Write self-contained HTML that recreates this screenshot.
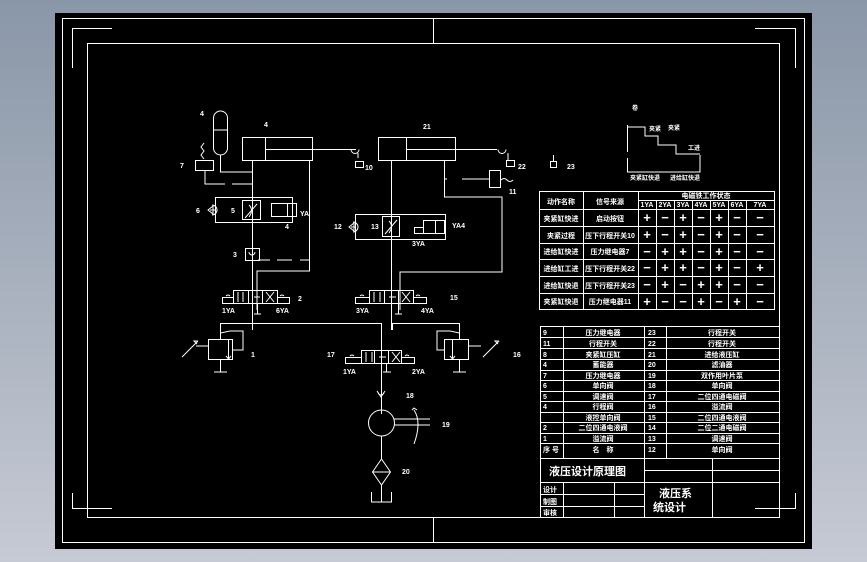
<!DOCTYPE html>
<html><head><meta charset="utf-8"><style>
html,body{margin:0;padding:0;}
body{width:867px;height:562px;background:linear-gradient(#8a97a8,#c6cad4);overflow:hidden;}
svg{position:absolute;left:0;top:0;}
text{font-family:"Liberation Sans","Noto Sans CJK SC",sans-serif;fill:#fff;font-weight:bold;}
</style></head><body>
<svg width="867" height="562" viewBox="0 0 867 562">
<rect x="55" y="13" width="757" height="536" fill="#000"/>
<g stroke="#fff" stroke-width="1" fill="none">
<rect x="62.5" y="18.5" width="742" height="524"/>
<rect x="87.5" y="43.5" width="692" height="474"/>
<path d="M433.5 18V43M433.5 518V543M72.5 68V28.5H112M795.5 68V28.5H755M72.5 493V508.5H112M795.5 493V508.5H755"/>

<!-- left cylinder -->
<rect x="242.5" y="137.5" width="70" height="23"/>
<path d="M265.5 137V160M265.5 149.5H356M351 149.5a4 4 0 0 0 8 0M358 153V158"/>
<rect x="355.5" y="161.5" width="8" height="6"/>
<!-- accumulator -->
<path d="M213.5 118a7 7 0 0 1 14 0V148a7 7 0 0 1-14 0Z M213.5 130H227.5"/>
<path d="M220.5 155V172H252.5"/>
<!-- pressure relay 7 -->
<rect x="195.5" y="160.5" width="18" height="10"/>
<path d="M204 159l-3-4 3-4-3-4 3-4M205 170V184H225M232 184H252"/>
<!-- main left line -->
<path d="M252.5 160V330M309.5 160V271H257V310"/>
<!-- valve group 1 -->
<rect x="215.5" y="197.5" width="77" height="25"/>
<path d="M215 210H210M208 210l5-4v8zM212 205a5 5 0 0 1 0 10"/>
<rect x="242.5" y="200.5" width="18" height="19"/>
<path d="M245 218l12-14M249 205q5 5 0 12"/>
<rect x="271.5" y="203.5" width="16" height="13"/><rect x="287.5" y="203.5" width="9" height="13"/>
<!-- check 3 -->
<rect x="245.5" y="248.5" width="14" height="12"/>
<path d="M249 252a3 3 0 1 0 6 0M258 260H270M277 260H292M300 260H309"/>
<!-- dir valve left -->
<rect x="233.5" y="290.5" width="44" height="13"/>
<path d="M248.5 290V303M262.5 290V303M238 302V292M243 302V292M266 302l8-10M266 292l8 10M254 297H260"/>
<rect x="222.5" y="297.5" width="11" height="6"/><rect x="277.5" y="297.5" width="12" height="6"/>
<path d="M226 296q2-2 4 0M280 296q2-2 4 0M257.5 304V314M254 314H261"/>
<!-- right cylinder -->
<rect x="378.5" y="137.5" width="77" height="23"/>
<path d="M406.5 137V160M406.5 149.5H497M498 149.5a4 4 0 0 0 8 0M508 153V160"/>
<rect x="506.5" y="160.5" width="8" height="6"/>
<path d="M391.5 160V330M444.5 160V197H502V272H400V310M444.5 179H447M462 179H489"/>
<rect x="489.5" y="170.5" width="11" height="17"/>
<path d="M501 180q3-3 6 0q3 3 6 0"/>
<rect x="550.5" y="161.5" width="6" height="6"/><path d="M553.5 155V161"/>
<!-- valve group 2 -->
<rect x="355.5" y="214.5" width="90" height="25"/>
<path d="M355 227H351M349 227l5-4v8zM353 222a5 5 0 0 1 0 10"/>
<rect x="382.5" y="216.5" width="17" height="20"/>
<path d="M385 234l12-14M389 221q5 5 0 12"/>
<rect x="423.5" y="220.5" width="12" height="13"/><rect x="435.5" y="220.5" width="9" height="13"/>
<rect x="414.5" y="227.5" width="9" height="6"/>
<!-- dir valve right -->
<rect x="369.5" y="290.5" width="44" height="13"/>
<path d="M384.5 290V303M398.5 290V303M374 302V292M380 302V292M402 302l8-10M402 292l8 10M389 297H396"/>
<rect x="355.5" y="297.5" width="14" height="6"/><rect x="413.5" y="297.5" width="13" height="6"/>
<path d="M360 296q2-2 4 0M416 296q2-2 4 0M398.5 304V314M395 314H402"/>
<!-- bottom lines -->
<path d="M220.5 338V323.5H381.5V414M392.5 330V323.5H459.5V338"/>
<!-- relief valve 1 -->
<rect x="208.5" y="339.5" width="24" height="20"/>
<path d="M220.5 339V333L230 331H243V350H232M228.5 340V358M226 356l2.5 3 2.5-3M196 346H208M182 357l16-16M198 341l-4 0 3 3M220.5 360V372M214 372H227"/>
<!-- relief valve 16 -->
<rect x="444.5" y="339.5" width="24" height="20"/>
<path d="M459.5 339V333L450 331H437V350H444M452.5 340V358M450 356l2.5 3 2.5-3M469 346H481M483 357l16-16M499 341l-4 0 3 3M459.5 360V372M453 372H466"/>
<!-- middle dir valve -->
<rect x="361.5" y="350.5" width="40" height="13"/>
<path d="M374.5 350V363M388.5 350V363M366 362V352M372 352V362M392 362l8-10M392 352l8 10M379 357H386"/>
<rect x="345.5" y="357.5" width="16" height="6"/><rect x="401.5" y="357.5" width="13" height="6"/>
<path d="M350 356q2-2 4 0M405 356q2-2 4 0M386.5 364V372M383 372H391"/>
<!-- check 18, pump -->
<path d="M377 391l4 6 4-6M378 392a3 3 0 0 0 6 0"/>
<circle cx="381.5" cy="423" r="13"/>
<path d="M394 419H430M394 425H430M414 410q8 12 0 34M412 410l2-2 3 2M381.5 436V459M381.5 459l-9 13 9 13 9-13zM372.5 472H390.5M381.5 485V502M371.5 492V502H391.5V492"/>

<!-- table 1 -->
<path d="M539.5 191.5H774.5V309.5H539.5ZM583.5 191V309M638.5 191V309M638 200.5H774M539 209.5H774M539 226.5H774M539 243.5H774M539 259.5H774M539 276.5H774M539 293.5H774M656.5 200V309M674.5 200V309M692.5 200V309M710.5 200V309M728.5 200V309M746.5 200V309"/>
<!-- table 2 -->
<path d="M540.5 326.5H779.5M540.5 326V518M563.5 326V458M644.5 326V518M666.5 326V458M540 337.5H779M540 348.5H779M540 359.5H779M540 370.5H779M540 380.5H779M540 391.5H779M540 401.5H779M540 412.5H779M540 422.5H779M540 433.5H779M540 443.5H779M540 458.5H779M644 470.5H779M540 482.5H779M540 494.5H644M540 506.5H644M563.5 482V518M614.5 482V518M712.5 458V518"/>
<!-- diagram top-right -->
<path d="M627.5 125V152M627.5 158V172H700V155M627.5 127H645V136H658V145H676V154H700"/>
</g>
<g font-size="7">
<text x="200" y="116">4</text><text x="264" y="127">4</text><text x="365" y="170">10</text><text x="180" y="168">7</text>
<text x="196" y="213">6</text><text x="231" y="213">5</text><text x="285" y="229">4</text><text x="300" y="216">YA</text>
<text x="233" y="257">3</text><text x="298" y="301">2</text><text x="222" y="313">1YA</text><text x="276" y="313">6YA</text>
<text x="423" y="129">21</text><text x="518" y="169">22</text><text x="567" y="169">23</text><text x="509" y="194">11</text>
<text x="334" y="229">12</text><text x="371" y="229">13</text><text x="452" y="228">YA4</text><text x="412" y="246">3YA</text>
<text x="356" y="313">3YA</text><text x="421" y="313">4YA</text><text x="450" y="300">15</text>
<text x="251" y="357">1</text><text x="327" y="357">17</text><text x="513" y="357">16</text><text x="343" y="374">1YA</text><text x="412" y="374">2YA</text>
<text x="406" y="398">18</text><text x="442" y="427">19</text><text x="402" y="474">20</text>
</g>
<g font-size="6">
<text x="632" y="110">卷</text><text x="649" y="131">夹紧</text><text x="668" y="130">夹紧</text><text x="688" y="150">工进</text>
<text x="630" y="180">夹紧缸快退</text><text x="670" y="180">进给缸快退</text>
</g>
<g font-size="7" text-anchor="middle">
<text x="561" y="204">动作名称</text><text x="610" y="204">信号来源</text><text x="706" y="198">电磁铁工作状态</text>
<text x="647" y="207">1YA</text><text x="665" y="207">2YA</text><text x="683" y="207">3YA</text><text x="701" y="207">4YA</text><text x="719" y="207">5YA</text><text x="737" y="207">6YA</text><text x="760" y="207">7YA</text>
<text x="561" y="221">夹紧缸快进</text><text x="610" y="221">启动按钮</text>
<text x="561" y="238">夹紧过程</text><text x="610" y="238">压下行程开关10</text>
<text x="561" y="254">进给缸快进</text><text x="610" y="254">压力继电器7</text>
<text x="561" y="271">进给缸工进</text><text x="610" y="271">压下行程开关22</text>
<text x="561" y="288">进给缸快退</text><text x="610" y="288">压下行程开关23</text>
<text x="561" y="304">夹紧缸快退</text><text x="610" y="304">压力继电器11</text>
</g>
<g font-size="13" text-anchor="middle">
<text x="647" y="222">+</text><text x="665" y="222">−</text><text x="683" y="222">+</text><text x="701" y="222">−</text><text x="719" y="222">+</text><text x="737" y="222">−</text><text x="760" y="222">−</text>
<text x="647" y="239">+</text><text x="665" y="239">−</text><text x="683" y="239">+</text><text x="701" y="239">−</text><text x="719" y="239">+</text><text x="737" y="239">−</text><text x="760" y="239">−</text>
<text x="647" y="256">−</text><text x="665" y="256">+</text><text x="683" y="256">+</text><text x="701" y="256">−</text><text x="719" y="256">+</text><text x="737" y="256">−</text><text x="760" y="256">−</text>
<text x="647" y="272">−</text><text x="665" y="272">+</text><text x="683" y="272">+</text><text x="701" y="272">−</text><text x="719" y="272">+</text><text x="737" y="272">−</text><text x="760" y="272">+</text>
<text x="647" y="289">−</text><text x="665" y="289">+</text><text x="683" y="289">−</text><text x="701" y="289">+</text><text x="719" y="289">+</text><text x="737" y="289">−</text><text x="760" y="289">−</text>
<text x="647" y="306">+</text><text x="665" y="306">−</text><text x="683" y="306">−</text><text x="701" y="306">+</text><text x="719" y="306">−</text><text x="737" y="306">+</text><text x="760" y="306">−</text>
</g>
<g font-size="7">
<g text-anchor="middle">
<text x="603" y="335">压力继电器</text><text x="603" y="346">行程开关</text><text x="603" y="357">夹紧缸压缸</text><text x="603" y="367">蓄能器</text>
<text x="603" y="378">压力继电器</text><text x="603" y="388">单向阀</text><text x="603" y="399">调速阀</text><text x="603" y="409">行程阀</text>
<text x="603" y="420">液控单向阀</text><text x="603" y="430">二位四通电液阀</text><text x="603" y="441">溢流阀</text><text x="603" y="452">名　称</text>
<text x="722" y="335">行程开关</text><text x="722" y="346">行程开关</text><text x="722" y="357">进给液压缸</text><text x="722" y="367">滤油器</text>
<text x="722" y="378">双作用叶片泵</text><text x="722" y="388">单向阀</text><text x="722" y="399">二位四通电磁阀</text><text x="722" y="409">溢流阀</text>
<text x="722" y="420">二位四通电液阀</text><text x="722" y="430">二位二通电磁阀</text><text x="722" y="441">调速阀</text><text x="722" y="452">单向阀</text>
</g>
<text x="543" y="335">9</text><text x="543" y="346">11</text><text x="543" y="357">8</text><text x="543" y="367">4</text><text x="543" y="378">7</text><text x="543" y="388">6</text><text x="543" y="399">5</text><text x="543" y="409">4</text><text x="543" y="430">2</text><text x="543" y="441">1</text><text x="543" y="452">序 号</text>
<text x="648" y="335">23</text><text x="648" y="346">22</text><text x="648" y="357">21</text><text x="648" y="367">20</text><text x="648" y="378">19</text><text x="648" y="388">18</text><text x="648" y="399">17</text><text x="648" y="409">16</text><text x="648" y="420">15</text><text x="648" y="430">14</text><text x="648" y="441">13</text><text x="648" y="452">12</text>
<text x="543" y="492">设计</text><text x="543" y="504">制图</text><text x="543" y="515">审核</text>
</g>
<text x="549" y="475" font-size="11">液压设计原理图</text>
<text x="659" y="497" font-size="11">液压系</text><text x="653" y="511" font-size="11">统设计</text>
</svg>
</body></html>
